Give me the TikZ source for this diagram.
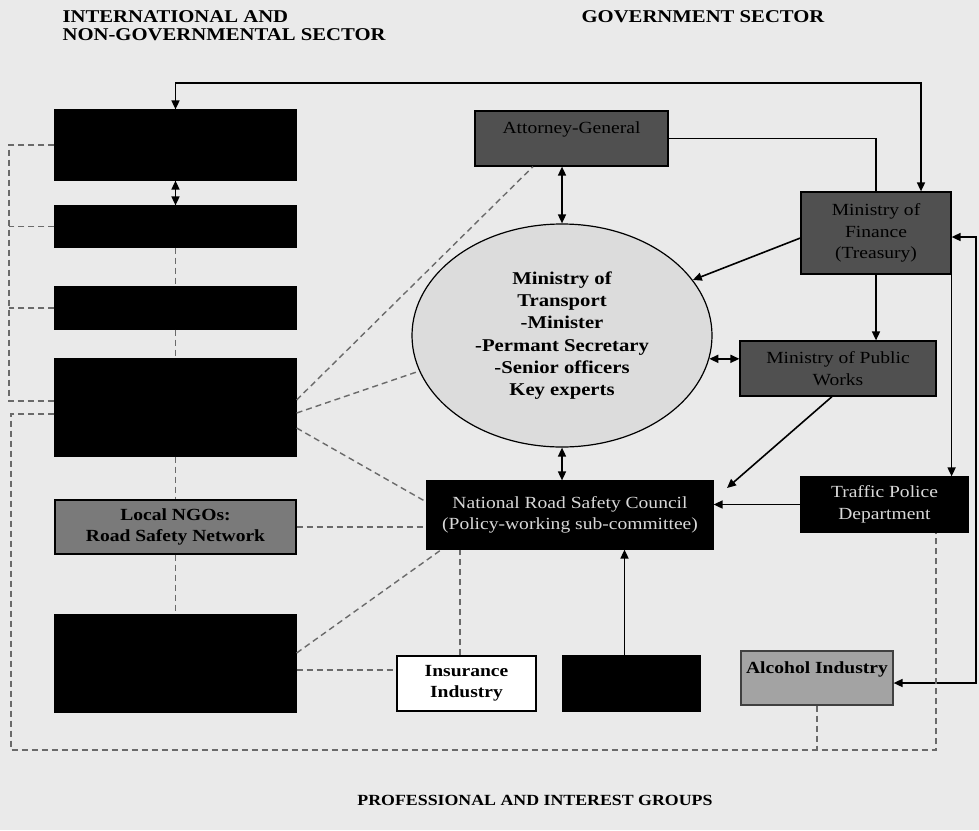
\documentclass[tikz,border=0pt]{standalone}
\usepackage{fontspec}
\setmainfont{Liberation Serif}[FakeStretch=1.15]
\usepackage{tikz}
\usetikzlibrary{arrows.meta,positioning,shapes.geometric}
\definecolor{bggray}{HTML}{EAEAEA}
\definecolor{govgray}{HTML}{505050}
\definecolor{ngogray}{HTML}{7A7A7A}
\definecolor{alcgray}{HTML}{A3A3A3}
\definecolor{ellgray}{HTML}{DCDCDC}
\definecolor{dashgray}{HTML}{6A6A6A}
\definecolor{blktext}{HTML}{D8D8D8}
\newcommand{\boxtxt}{\fontsize{17}{21.5}\selectfont}
\newcommand{\elltxt}{\fontsize{18}{22.3}\selectfont\bfseries}
\newcommand{\headtxt}{\fontsize{18}{18}\selectfont\bfseries}
\newcommand{\grptxt}{\fontsize{15.5}{18}\selectfont\bfseries}

\begin{document}
\begin{tikzpicture}[x=1pt,y=-1pt,>={Triangle[length=9pt,width=8pt]},
    every node/.style={draw,line width=1.2pt,align=center,inner sep=2pt,font=\boxtxt},
    blkbox/.style={fill=black,text=blktext},
    govbox/.style={fill=govgray},
    heading/.style={draw=none,inner sep=0pt,font=\headtxt},
    conn/.style={draw=black,line width=1.6pt},
    dsh/.style={draw=dashgray,line width=1.4pt,dash pattern=on 6pt off 4pt}]
  \fill[bggray] (0,0) rectangle (979,830);

  % sector headings
  \node[heading,anchor=west,align=left] (intlhead) at (62,26) {INTERNATIONAL AND\\NON-GOVERNMENTAL SECTOR};
  \node[heading] (govhead) at (703,17) {GOVERNMENT SECTOR};
  \node[heading,font=\grptxt] (grphead) at (535,800) {PROFESSIONAL AND INTEREST GROUPS};

  % international / NGO column
  \node[blkbox,minimum width=241pt,minimum height=70pt] (org1) at (175.5,145) {};
  \node[blkbox,minimum width=241pt,minimum height=41pt] (org2) at (175.5,226.5) {};
  \node[blkbox,minimum width=241pt,minimum height=42pt] (org3) at (175.5,308) {};
  \node[blkbox,minimum width=241pt,minimum height=97pt] (org4) at (175.5,407.5) {};
  \node[fill=ngogray,minimum width=241pt,minimum height=54pt,font=\boxtxt\bfseries] (ngo) at (175.5,527) {Local NGOs:\\Road Safety Network};
  \node[blkbox,minimum width=241pt,minimum height=97pt] (org5) at (175.5,663.5) {};

  % government sector
  \node[govbox,minimum width=193pt,minimum height=55pt] (ag) at (571.5,138.5) {Attorney-General\\~};
  \node[govbox,minimum width=150pt,minimum height=82pt] (fin) at (876,233) {Ministry of\\Finance\\(Treasury)};
  \node[govbox,minimum width=196pt,minimum height=55pt] (pw) at (838,368.5) {Ministry of Public\\Works};
  \node[ellipse,fill=ellgray,minimum width=300pt,minimum height=223pt,inner sep=0pt,font=\elltxt] (mot) at (562,335.5)
    {Ministry of\\Transport\\-Minister\\-Permant Secretary\\-Senior officers\\Key experts};
  \node[blkbox,minimum width=167pt,minimum height=55pt] (tp) at (884.5,504.5) {Traffic Police\\Department};
  \node[blkbox,minimum width=286pt,minimum height=68pt] (nrsc) at (570,515) {National Road Safety Council\\(Policy-working sub-committee)};

  % professional and interest groups
  \node[fill=white,minimum width=139pt,minimum height=55pt,font=\boxtxt\bfseries] (ins) at (466.5,683.5) {Insurance\\Industry};
  \node[blkbox,minimum width=137pt,minimum height=55pt] (grp1) at (631.5,683.5) {};
  \node[fill=alcgray,draw=black!75,minimum width=152pt,minimum height=54pt,font=\boxtxt\bfseries] (alc) at (817,678) {Alcohol Industry\\~};

  \coordinate (topR) at (921,83);
  \coordinate (edgeT) at (976,237);
  \coordinate (edgeB) at (976,683);
  \coordinate (pwtip) at (727,488);
  \coordinate (lt) at (9,145);
  \coordinate (lb) at (9,401);
  \coordinate (lb2) at (11,750);
  \coordinate (rb) at (936,750);

  % solid links
  \draw[conn,<->] (org1.north) |- (topR) -- (topR |- fin.north);
  \draw[conn] (ag.east) -| (fin.north);
  \draw[conn,<->] (ag.south -| mot.north) -- (mot.north);
  \draw[conn,->] ([yshift=-5pt]fin.west) -- (mot.23);
  \draw[conn,->] (fin.south) -- (pw.north -| fin.south);
  \draw[conn,<->] (mot.-9) -- (mot.-9 -| pw.west);
  \draw[conn,->] (fin.south east) -- (tp.north -| fin.south east);
  \draw[conn,<->] (edgeT -| fin.east) -- (edgeT) -- (edgeB) -- (edgeB -| alc.east);
  \draw[conn,->] ([xshift=-6pt]pw.south) -- (pwtip);
  \draw[conn,->] (tp.west) -- (tp.west -| nrsc.east);
  \draw[conn,<->] (mot.south) -- (nrsc.north -| mot.south);
  \draw[conn,<->] (org1.south) -- (org2.north);
  \draw[conn,->] ([xshift=-7pt]grp1.north) -- ([xshift=-7pt]grp1.north |- nrsc.south);

  % dashed links
  \draw[dsh] (org1.west) -- (org1.west -| lt) -- (lb) -- (lb -| org4.west);
  \draw[dsh] (org2.west) -- (org2.west -| lt) (org3.west) -- (org3.west -| lt);
  \draw[dsh] ([yshift=-6.5pt]org4.west) -| (lb2) -- (rb) -- (rb |- tp.south);
  \draw[dsh] (alc.south) -- (alc.south |- rb);
  \draw[dsh] (org2.south) -- (org3.north) (org3.south) -- (org4.north)
    (org4.south) -- (ngo.north) (ngo.south) -- (org5.north);
  \draw[dsh] ([yshift=7.5pt]org4.east) -- ([xshift=-38.5pt]ag.south);
  \draw[dsh] ([yshift=-5.5pt]org4.east) -- (mot.194);
  \draw[dsh] ([yshift=-20.5pt]org4.east) -- ([yshift=13pt]nrsc.west);
  \draw[dsh] (ngo.east) -- (ngo.east -| nrsc.west);
  \draw[dsh] ([yshift=10.5pt]org5.east) -- ([xshift=15pt]nrsc.south west);
  \draw[dsh] ([yshift=-6.5pt]org5.east) -- ([yshift=-6.5pt]org5.east -| ins.west);
  \draw[dsh] ([xshift=-6.5pt]ins.north) -- ([xshift=-6.5pt]ins.north |- nrsc.south);
\end{tikzpicture}
\end{document}
